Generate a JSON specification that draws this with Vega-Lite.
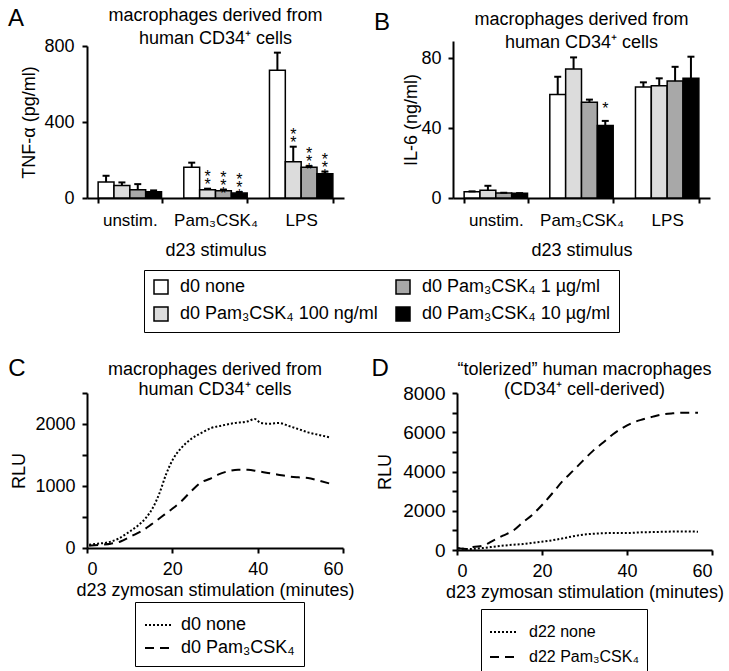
{
  "$schema": "https://vega.github.io/schema/vega-lite/v6.json",
  "padding": {"left": 7, "top": 6, "right": 2, "bottom": 2},
  "config": {
    "font": "Liberation Sans",
    "view": {"stroke": null},
    "axis": {"domainColor": "black", "domainWidth": 2, "tickColor": "black", "tickWidth": 2, "tickSize": 5, "labelColor": "black", "labelFontSize": 18, "titleFontSize": 18, "titleFontWeight": "normal", "titleColor": "black", "grid": false, "labelOverlap": false},
    "title": {"fontSize": 18, "fontWeight": "normal", "color": "black"},
    "legend": {"labelFontSize": 18, "labelColor": "black", "strokeColor": "black", "labelLimit": 400}
  },
  "datasets": {
    "tnf": [
      {"stim": "unstim.", "pre": "d0 none", "value": 84, "err": 117, "sig": ""},
      {"stim": "unstim.", "pre": "d0 Pam₃CSK₄ 100 ng/ml", "value": 66, "err": 82, "sig": ""},
      {"stim": "unstim.", "pre": "d0 Pam₃CSK₄ 1 µg/ml", "value": 44, "err": 73, "sig": ""},
      {"stim": "unstim.", "pre": "d0 Pam₃CSK₄ 10 µg/ml", "value": 33, "err": 40, "sig": ""},
      {"stim": "Pam₃CSK₄", "pre": "d0 none", "value": 162, "err": 186, "sig": ""},
      {"stim": "Pam₃CSK₄", "pre": "d0 Pam₃CSK₄ 100 ng/ml", "value": 43, "err": 49, "sig": "* *"},
      {"stim": "Pam₃CSK₄", "pre": "d0 Pam₃CSK₄ 1 µg/ml", "value": 38, "err": 44, "sig": "* * *"},
      {"stim": "Pam₃CSK₄", "pre": "d0 Pam₃CSK₄ 10 µg/ml", "value": 26, "err": 31, "sig": "* * *"},
      {"stim": "LPS", "pre": "d0 none", "value": 673, "err": 765, "sig": ""},
      {"stim": "LPS", "pre": "d0 Pam₃CSK₄ 100 ng/ml", "value": 191, "err": 270, "sig": "* *"},
      {"stim": "LPS", "pre": "d0 Pam₃CSK₄ 1 µg/ml", "value": 162, "err": 167, "sig": "* * *"},
      {"stim": "LPS", "pre": "d0 Pam₃CSK₄ 10 µg/ml", "value": 127, "err": 139, "sig": "* * *"}
    ],
    "il6": [
      {"stim": "unstim.", "pre": "d0 none", "value": 3.6, "err": 3.8, "sig": ""},
      {"stim": "unstim.", "pre": "d0 Pam₃CSK₄ 100 ng/ml", "value": 4.4, "err": 7, "sig": ""},
      {"stim": "unstim.", "pre": "d0 Pam₃CSK₄ 1 µg/ml", "value": 2.9, "err": 3.0, "sig": ""},
      {"stim": "unstim.", "pre": "d0 Pam₃CSK₄ 10 µg/ml", "value": 2.7, "err": 2.8, "sig": ""},
      {"stim": "Pam₃CSK₄", "pre": "d0 none", "value": 59.4, "err": 69.5, "sig": ""},
      {"stim": "Pam₃CSK₄", "pre": "d0 Pam₃CSK₄ 100 ng/ml", "value": 73.9, "err": 80.6, "sig": ""},
      {"stim": "Pam₃CSK₄", "pre": "d0 Pam₃CSK₄ 1 µg/ml", "value": 54.9, "err": 56.4, "sig": ""},
      {"stim": "Pam₃CSK₄", "pre": "d0 Pam₃CSK₄ 10 µg/ml", "value": 41.5, "err": 44.2, "sig": "*"},
      {"stim": "LPS", "pre": "d0 none", "value": 63.6, "err": 66.3, "sig": ""},
      {"stim": "LPS", "pre": "d0 Pam₃CSK₄ 100 ng/ml", "value": 64.4, "err": 68.6, "sig": ""},
      {"stim": "LPS", "pre": "d0 Pam₃CSK₄ 1 µg/ml", "value": 67, "err": 75.2, "sig": ""},
      {"stim": "LPS", "pre": "d0 Pam₃CSK₄ 10 µg/ml", "value": 68.6, "err": 81, "sig": ""}
    ],
    "c": [
      {"group": "d0 none", "t": 0.5, "rlu": 54}, {"group": "d0 none", "t": 2.5, "rlu": 70}, {"group": "d0 none", "t": 4.9, "rlu": 91}, {"group": "d0 none", "t": 7.2, "rlu": 145}, {"group": "d0 none", "t": 9.5, "rlu": 242}, {"group": "d0 none", "t": 11.9, "rlu": 360}, {"group": "d0 none", "t": 13.8, "rlu": 484}, {"group": "d0 none", "t": 15.4, "rlu": 645}, {"group": "d0 none", "t": 17, "rlu": 887}, {"group": "d0 none", "t": 18.5, "rlu": 1183}, {"group": "d0 none", "t": 20.1, "rlu": 1425}, {"group": "d0 none", "t": 22.1, "rlu": 1613}, {"group": "d0 none", "t": 24.4, "rlu": 1758}, {"group": "d0 none", "t": 26.8, "rlu": 1855}, {"group": "d0 none", "t": 29.1, "rlu": 1935}, {"group": "d0 none", "t": 31.5, "rlu": 1973}, {"group": "d0 none", "t": 34.6, "rlu": 2016}, {"group": "d0 none", "t": 37.7, "rlu": 2043}, {"group": "d0 none", "t": 39.3, "rlu": 2081}, {"group": "d0 none", "t": 40.8, "rlu": 2016}, {"group": "d0 none", "t": 42.8, "rlu": 2005}, {"group": "d0 none", "t": 45.1, "rlu": 2016}, {"group": "d0 none", "t": 47.1, "rlu": 1973}, {"group": "d0 none", "t": 49.5, "rlu": 1919}, {"group": "d0 none", "t": 51.8, "rlu": 1865}, {"group": "d0 none", "t": 54.1, "rlu": 1828}, {"group": "d0 none", "t": 56.9, "rlu": 1785},
      {"group": "d0 Pam₃CSK₄", "t": 0.5, "rlu": 38}, {"group": "d0 Pam₃CSK₄", "t": 3.3, "rlu": 54}, {"group": "d0 Pam₃CSK₄", "t": 5.6, "rlu": 70}, {"group": "d0 Pam₃CSK₄", "t": 8, "rlu": 108}, {"group": "d0 Pam₃CSK₄", "t": 10.3, "rlu": 188}, {"group": "d0 Pam₃CSK₄", "t": 12.7, "rlu": 269}, {"group": "d0 Pam₃CSK₄", "t": 15, "rlu": 376}, {"group": "d0 Pam₃CSK₄", "t": 17.4, "rlu": 500}, {"group": "d0 Pam₃CSK₄", "t": 19.7, "rlu": 618}, {"group": "d0 Pam₃CSK₄", "t": 22.1, "rlu": 753}, {"group": "d0 Pam₃CSK₄", "t": 24.4, "rlu": 914}, {"group": "d0 Pam₃CSK₄", "t": 26.8, "rlu": 1059}, {"group": "d0 Pam₃CSK₄", "t": 28.7, "rlu": 1113}, {"group": "d0 Pam₃CSK₄", "t": 30.7, "rlu": 1183}, {"group": "d0 Pam₃CSK₄", "t": 33, "rlu": 1237}, {"group": "d0 Pam₃CSK₄", "t": 35.4, "rlu": 1263}, {"group": "d0 Pam₃CSK₄", "t": 37.7, "rlu": 1263}, {"group": "d0 Pam₃CSK₄", "t": 40.1, "rlu": 1237}, {"group": "d0 Pam₃CSK₄", "t": 42.4, "rlu": 1210}, {"group": "d0 Pam₃CSK₄", "t": 44.8, "rlu": 1183}, {"group": "d0 Pam₃CSK₄", "t": 47.1, "rlu": 1156}, {"group": "d0 Pam₃CSK₄", "t": 49.5, "rlu": 1140}, {"group": "d0 Pam₃CSK₄", "t": 51.8, "rlu": 1129}, {"group": "d0 Pam₃CSK₄", "t": 54.1, "rlu": 1091}, {"group": "d0 Pam₃CSK₄", "t": 57.3, "rlu": 1032}
    ],
    "d": [
      {"group": "d22 none", "t": 0.2, "rlu": 85}, {"group": "d22 none", "t": 3, "rlu": 51}, {"group": "d22 none", "t": 6.1, "rlu": 102}, {"group": "d22 none", "t": 9.3, "rlu": 186}, {"group": "d22 none", "t": 12.4, "rlu": 254}, {"group": "d22 none", "t": 15.5, "rlu": 305}, {"group": "d22 none", "t": 18.7, "rlu": 390}, {"group": "d22 none", "t": 21.8, "rlu": 475}, {"group": "d22 none", "t": 24.9, "rlu": 593}, {"group": "d22 none", "t": 28.1, "rlu": 729}, {"group": "d22 none", "t": 30.4, "rlu": 797}, {"group": "d22 none", "t": 33.6, "rlu": 848}, {"group": "d22 none", "t": 36.7, "rlu": 864}, {"group": "d22 none", "t": 39.8, "rlu": 864}, {"group": "d22 none", "t": 43, "rlu": 898}, {"group": "d22 none", "t": 46.1, "rlu": 915}, {"group": "d22 none", "t": 49.3, "rlu": 932}, {"group": "d22 none", "t": 52.4, "rlu": 949}, {"group": "d22 none", "t": 56.7, "rlu": 932},
      {"group": "d22 Pam₃CSK₄", "t": 0.2, "rlu": 85}, {"group": "d22 Pam₃CSK₄", "t": 2.2, "rlu": 51}, {"group": "d22 Pam₃CSK₄", "t": 3.8, "rlu": 150}, {"group": "d22 Pam₃CSK₄", "t": 6.1, "rlu": 220}, {"group": "d22 Pam₃CSK₄", "t": 8.5, "rlu": 475}, {"group": "d22 Pam₃CSK₄", "t": 10.8, "rlu": 729}, {"group": "d22 Pam₃CSK₄", "t": 13.2, "rlu": 983}, {"group": "d22 Pam₃CSK₄", "t": 15.5, "rlu": 1407}, {"group": "d22 Pam₃CSK₄", "t": 17.9, "rlu": 1831}, {"group": "d22 Pam₃CSK₄", "t": 20.2, "rlu": 2339}, {"group": "d22 Pam₃CSK₄", "t": 22.6, "rlu": 2932}, {"group": "d22 Pam₃CSK₄", "t": 24.9, "rlu": 3526}, {"group": "d22 Pam₃CSK₄", "t": 27.3, "rlu": 4034}, {"group": "d22 Pam₃CSK₄", "t": 29.6, "rlu": 4543}, {"group": "d22 Pam₃CSK₄", "t": 32, "rlu": 5051}, {"group": "d22 Pam₃CSK₄", "t": 34.4, "rlu": 5475}, {"group": "d22 Pam₃CSK₄", "t": 36.7, "rlu": 5899}, {"group": "d22 Pam₃CSK₄", "t": 39.1, "rlu": 6238}, {"group": "d22 Pam₃CSK₄", "t": 41.4, "rlu": 6492}, {"group": "d22 Pam₃CSK₄", "t": 43.8, "rlu": 6661}, {"group": "d22 Pam₃CSK₄", "t": 46.1, "rlu": 6797}, {"group": "d22 Pam₃CSK₄", "t": 48.5, "rlu": 6916}, {"group": "d22 Pam₃CSK₄", "t": 50.8, "rlu": 6967}, {"group": "d22 Pam₃CSK₄", "t": 54, "rlu": 7000}, {"group": "d22 Pam₃CSK₄", "t": 56.7, "rlu": 7000}
    ]
  },
  "align": "none",
  "spacing": 98,
  "resolve": {"scale": {"strokeDash": "independent"}, "legend": {"strokeDash": "independent"}},
  "vconcat": [
    {
      "align": "none",
      "spacing": 29,
      "hconcat": [
        {
          "title": {"text": "A", "orient": "left", "anchor": "end", "frame": "bounds", "angle": 0, "align": "right", "baseline": "top", "fontSize": 24, "offset": -19},
          "vconcat": [
            {
              "width": 257, "height": 157,
              "title": {"text": ["macrophages derived from", "human CD34⁺ cells"], "lineHeight": 23, "offset": -10.6, "frame": "group"},
              "data": {"name": "tnf"},
              "encoding": {
                "x": {"field": "stim", "type": "nominal", "sort": ["unstim.", "Pam₃CSK₄", "LPS"], "scale": {"paddingInner": 0.26, "paddingOuter": 0.13}, "axis": {"title": "d23 stimulus", "labelAngle": 0, "tickBand": "extent", "labelPadding": 9, "titlePadding": 13, "labelFontSize": 17}},
                "xOffset": {"field": "pre", "type": "nominal", "sort": ["d0 none", "d0 Pam₃CSK₄ 100 ng/ml", "d0 Pam₃CSK₄ 1 µg/ml", "d0 Pam₃CSK₄ 10 µg/ml"]}
              },
              "layer": [
                {
                  "mark": {"type": "bar", "stroke": "black", "strokeWidth": 1.5},
                  "encoding": {
                    "y": {"field": "value", "type": "quantitative", "title": "TNF-α (pg/ml)", "scale": {"domain": [0, 800], "range": [157, 5], "nice": false}, "axis": {"values": [0, 100, 200, 300, 400, 500, 600, 700, 800], "labelExpr": "datum.value % 200 === 0 ? datum.label : ''", "labelPadding": 8, "titlePadding": 5}},
                    "color": {"field": "pre", "type": "nominal", "scale": {"domain": ["d0 none", "d0 Pam₃CSK₄ 100 ng/ml", "d0 Pam₃CSK₄ 1 µg/ml", "d0 Pam₃CSK₄ 10 µg/ml"], "range": ["#ffffff", "#dcdcdc", "#a8a8a8", "#000000"]}, "legend": {"title": null, "orient": "none", "legendX": 57, "legendY": 229, "columns": 2, "symbolType": "square", "symbolSize": 196, "symbolStrokeColor": "black", "symbolStrokeWidth": 1.5, "symbolOpacity": 1, "labelOffset": 10, "columnPadding": 15, "rowPadding": 7, "padding": 8, "strokeColor": "black", "labelFontSize": 18}}
                  }
                },
                {
                  "mark": {"type": "rule", "color": "black", "strokeWidth": 2},
                  "encoding": {"y": {"field": "value", "type": "quantitative", "title": "TNF-α (pg/ml)", "scale": {"domain": [0, 800], "range": [157, 5], "nice": false}}, "y2": {"field": "err"}}
                },
                {
                  "mark": {"type": "tick", "orient": "horizontal", "color": "black", "thickness": 2, "size": 7, "opacity": 1},
                  "encoding": {"y": {"field": "err", "type": "quantitative", "title": "TNF-α (pg/ml)", "scale": {"domain": [0, 800], "range": [157, 5], "nice": false}}}
                },
                {
                  "transform": [{"filter": "datum.sig != ''"}],
                  "mark": {"type": "text", "lineBreak": " ", "lineHeight": 8, "baseline": "bottom", "dy": -4, "fontSize": 16, "color": "black"},
                  "encoding": {"y": {"field": "err", "type": "quantitative", "title": "TNF-α (pg/ml)", "scale": {"domain": [0, 800], "range": [157, 5], "nice": false}}, "text": {"field": "sig"}}
                }
              ]
            }
          ]
        },
        {
          "title": {"text": "B", "orient": "left", "anchor": "end", "frame": "bounds", "angle": 0, "align": "right", "baseline": "top", "fontSize": 24, "offset": -3},
          "vconcat": [
            {
              "width": 257, "height": 157,
              "title": {"text": ["macrophages derived from", "human CD34⁺ cells"], "lineHeight": 23, "offset": -10.6, "frame": "group"},
              "data": {"name": "il6"},
              "encoding": {
                "x": {"field": "stim", "type": "nominal", "sort": ["unstim.", "Pam₃CSK₄", "LPS"], "scale": {"paddingInner": 0.26, "paddingOuter": 0.13}, "axis": {"title": "d23 stimulus", "labelAngle": 0, "tickBand": "extent", "labelPadding": 9, "titlePadding": 13, "labelFontSize": 17}},
                "xOffset": {"field": "pre", "type": "nominal", "sort": ["d0 none", "d0 Pam₃CSK₄ 100 ng/ml", "d0 Pam₃CSK₄ 1 µg/ml", "d0 Pam₃CSK₄ 10 µg/ml"]}
              },
              "layer": [
                {
                  "mark": {"type": "bar", "stroke": "black", "strokeWidth": 1.5},
                  "encoding": {
                    "y": {"field": "value", "type": "quantitative", "title": "IL-6 (ng/ml)", "scale": {"domain": [0, 90], "nice": false}, "axis": {"values": [0, 10, 20, 30, 40, 50, 60, 70, 80, 90], "labelExpr": "datum.value % 20 === 0 ? datum.label : ''", "labelPadding": 7, "titlePadding": 0}},
                    "color": {"field": "pre", "type": "nominal", "scale": {"domain": ["d0 none", "d0 Pam₃CSK₄ 100 ng/ml", "d0 Pam₃CSK₄ 1 µg/ml", "d0 Pam₃CSK₄ 10 µg/ml"], "range": ["#ffffff", "#dcdcdc", "#a8a8a8", "#000000"]}, "legend": {"title": null, "orient": "none", "legendX": 57, "legendY": 229, "columns": 2, "symbolType": "square", "symbolSize": 196, "symbolStrokeColor": "black", "symbolStrokeWidth": 1.5, "symbolOpacity": 1, "labelOffset": 10, "columnPadding": 15, "rowPadding": 7, "padding": 8, "strokeColor": "black", "labelFontSize": 18}}
                  }
                },
                {
                  "mark": {"type": "rule", "color": "black", "strokeWidth": 2},
                  "encoding": {"y": {"field": "value", "type": "quantitative", "title": "IL-6 (ng/ml)", "scale": {"domain": [0, 90], "nice": false}}, "y2": {"field": "err"}}
                },
                {
                  "mark": {"type": "tick", "orient": "horizontal", "color": "black", "thickness": 2, "size": 7, "opacity": 1},
                  "encoding": {"y": {"field": "err", "type": "quantitative", "title": "IL-6 (ng/ml)", "scale": {"domain": [0, 90], "nice": false}}}
                },
                {
                  "transform": [{"filter": "datum.sig != ''"}],
                  "mark": {"type": "text", "lineBreak": " ", "lineHeight": 8, "baseline": "bottom", "dy": -4, "fontSize": 16, "color": "black"},
                  "encoding": {"y": {"field": "err", "type": "quantitative", "title": "IL-6 (ng/ml)", "scale": {"domain": [0, 90], "nice": false}}, "text": {"field": "sig"}}
                }
              ]
            }
          ]
        }
      ]
    },
    {
      "align": "none",
      "spacing": 16,
      "resolve": {"scale": {"strokeDash": "independent"}, "legend": {"strokeDash": "independent"}},
      "hconcat": [
        {
          "title": {"text": "C", "orient": "left", "anchor": "end", "frame": "bounds", "angle": 0, "align": "right", "baseline": "top", "fontSize": 24, "offset": -32, "dy": -4},
          "resolve": {"scale": {"strokeDash": "independent"}, "legend": {"strokeDash": "independent"}},
          "vconcat": [
            {
              "width": 256, "height": 155,
              "title": {"text": ["macrophages derived from", "human CD34⁺ cells"], "lineHeight": 20, "offset": -15, "frame": "group"},
              "data": {"name": "c"},
              "mark": {"type": "line", "color": "black", "strokeWidth": 2, "interpolate": "monotone"},
              "encoding": {
                "x": {"field": "t", "type": "quantitative", "title": "d23 zymosan stimulation (minutes)", "scale": {"domain": [0, 60], "nice": false}, "axis": {"values": [0, 20, 40, 60], "labelPadding": 7, "titlePadding": 3}},
                "y": {"field": "rlu", "type": "quantitative", "title": "RLU", "scale": {"domain": [0, 2500], "nice": false}, "axis": {"values": [0, 500, 1000, 1500, 2000, 2500], "format": "d", "labelExpr": "datum.value % 1000 === 0 ? datum.label : ''", "labelPadding": 7, "titlePadding": 6}},
                "strokeDash": {"field": "group", "type": "nominal", "scale": {"domain": ["d0 none", "d0 Pam₃CSK₄"], "range": [[2, 2], [9, 6]]}, "legend": {"title": null, "orient": "none", "legendX": 48, "legendY": 209, "symbolType": "stroke", "symbolSize": 676, "symbolStrokeColor": "black", "symbolStrokeWidth": 2, "labelOffset": 9, "rowPadding": 0, "padding": 9, "strokeColor": "black", "labelFontSize": 18}}
              }
            }
          ]
        },
        {
          "title": {"text": "D", "orient": "left", "anchor": "end", "frame": "bounds", "angle": 0, "align": "right", "baseline": "top", "fontSize": 24, "offset": -29.5, "dy": -4},
          "resolve": {"scale": {"strokeDash": "independent"}, "legend": {"strokeDash": "independent"}},
          "vconcat": [
            {
              "width": 255, "height": 157,
              "title": {"text": ["“tolerized” human macrophages", "(CD34⁺ cell-derived)"], "lineHeight": 20, "offset": -15, "frame": "group"},
              "data": {"name": "d"},
              "mark": {"type": "line", "color": "black", "strokeWidth": 2, "interpolate": "monotone"},
              "encoding": {
                "x": {"field": "t", "type": "quantitative", "title": "d23 zymosan stimulation (minutes)", "scale": {"domain": [0, 60], "nice": false}, "axis": {"values": [0, 20, 40, 60], "labelPadding": 7, "titlePadding": 3}},
                "y": {"field": "rlu", "type": "quantitative", "title": "RLU", "scale": {"domain": [0, 8000], "nice": false}, "axis": {"values": [0, 1000, 2000, 3000, 4000, 5000, 6000, 7000, 8000], "format": "d", "labelExpr": "datum.value % 2000 === 0 ? datum.label : ''", "labelFontSize": 19, "labelPadding": 7, "titlePadding": 8}},
                "strokeDash": {"field": "group", "type": "nominal", "scale": {"domain": ["d22 none", "d22 Pam₃CSK₄"], "range": [[2, 2], [9, 6]]}, "legend": {"title": null, "orient": "none", "legendX": 24, "legendY": 216, "symbolType": "stroke", "symbolSize": 784, "symbolStrokeColor": "black", "symbolStrokeWidth": 2, "labelOffset": 10, "rowPadding": 2, "padding": 8, "strokeColor": "black", "labelFontSize": 16}}
              }
            }
          ]
        }
      ]
    }
  ]
}
